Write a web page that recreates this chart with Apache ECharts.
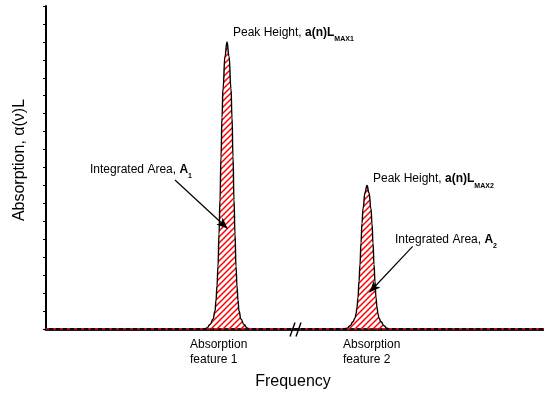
<!DOCTYPE html>
<html>
<head>
<meta charset="utf-8">
<script src="https://cdn.jsdelivr.net/npm/echarts@6/dist/echarts.min.js"></script>
<style>
  html, body { margin: 0; padding: 0; background: #fff; }
  #chart { width: 544px; height: 394px; }
</style>
</head>
<body>
<div id="chart"></div>
<script>
// Frequency axis range (arbitrary units) and absorption axis range
const freqRange = [0, 498];
const absRange = [0, 18];

// Absorption feature 1: (frequency, absorption) samples around its peak
const feature1 = [
  [158, 0], [161, 0.06], [164, 0.25], [167, 0.55], [169, 1.0],
  [170, 1.6], [171, 2.4], [172, 3.5], [173, 5.3], [174, 7.2], [175, 9.6],
  [176, 11.8], [177, 13.4], [179, 15.2], [181, 16], [183, 15.2], [185, 13.4],
  [186, 11.8], [187, 9.6], [188, 7.2], [189, 5.3], [190, 3.5], [191, 2.4],
  [192, 1.6], [193, 1.0], [195, 0.55], [198, 0.25], [201, 0.06], [204, 0]
];

// Absorption feature 2
const feature2 = [
  [298, 0], [301, 0.04], [304, 0.18], [307, 0.4], [309, 0.6],
  [310, 0.85], [311, 1.2], [312, 1.75], [313, 2.65], [314, 3.6], [315, 4.8],
  [316, 5.9], [317, 6.7], [319, 7.6], [321, 8], [323, 7.6], [325, 6.7],
  [326, 5.9], [327, 4.8], [328, 3.6], [329, 2.65], [330, 1.75], [331, 1.2],
  [332, 0.85], [333, 0.6], [335, 0.4], [338, 0.18], [341, 0.04], [344, 0]
];

const featureNames = ['Absorption\nfeature 1', 'Absorption\nfeature 2'];
const xTitle = 'Frequency';
const yTitle = 'Absorption, \u03b1(\u03bd)L';
const breakAt = 249.5;

const spectrum = [[freqRange[0], 0]].concat(feature1, feature2, [[freqRange[1], 0]]);

// red diagonal hatching used to fill the integrated areas
function hatchPattern() {
  const c = document.createElement('canvas');
  const s = 6;
  c.width = s; c.height = s;
  const g = c.getContext('2d');
  g.strokeStyle = '#ff0000';
  g.lineWidth = 1.5;
  g.beginPath();
  g.moveTo(-1, s + 1); g.lineTo(s + 1, -1);
  g.moveTo(-1, 1); g.lineTo(1, -1);
  g.moveTo(s - 1, s + 1); g.lineTo(s + 1, s - 1);
  g.stroke();
  return c;
}

const FONT = '"Liberation Sans", Arial, sans-serif';
const chart = echarts.init(document.getElementById('chart'), null, { renderer: 'canvas' });

chart.setOption({
  animation: false,
  backgroundColor: '#fff',
  grid: { left: 46, right: 0, top: 6, bottom: 65 },
  xAxis: {
    type: 'value',
    min: freqRange[0], max: freqRange[1],
    axisLine: { show: true, onZero: false, lineStyle: { color: '#1a1a1a', width: 3 } },
    axisTick: { show: false },
    axisLabel: { show: false },
    splitLine: { show: false }
  },
  yAxis: {
    type: 'value',
    min: absRange[0], max: absRange[1], interval: 1,
    axisLine: { show: true, lineStyle: { color: '#000', width: 2 } },
    axisTick: { show: true, inside: false, length: 3, lineStyle: { color: '#000', width: 1 } },
    axisLabel: { show: false },
    splitLine: { show: false }
  },
  series: [
    {
      type: 'line',
      data: spectrum,
      smooth: 0.5,
      smoothMonotone: 'x',
      showSymbol: false,
      lineStyle: { color: '#000', width: 1.4 },
      areaStyle: { color: { image: hatchPattern(), repeat: 'repeat' }, opacity: 1 },
      z: 3,
      markLine: {
        silent: true,
        animation: false,
        label: { show: false },
        lineStyle: { color: '#000', width: 1.2, type: 'solid' },
        data: [
          [
            { coord: [129, 8.3], symbol: 'none' },
            { coord: [181.5, 5.6], symbol: 'arrow', symbolSize: [7, 11] }
          ],
          [
            { coord: [366.7, 4.6], symbol: 'none' },
            { coord: [323.5, 2.05], symbol: 'arrow', symbolSize: [7, 11] }
          ]
        ]
      }
    },
    {
      // dashed red trace of the hatch along the baseline
      type: 'line',
      data: [[freqRange[0], 0], [freqRange[1], 0]],
      showSymbol: false,
      lineStyle: { color: '#ff1a1a', width: 1.3, type: [3, 4] },
      z: 5
    }
  ]
});

function px(x, y) { return chart.convertToPixel({ gridIndex: 0 }, [x, y]); }

const baseText = { fontFamily: FONT, fontSize: 12, fill: '#000' };
const rich = {
  n: { fontFamily: FONT, fontSize: 12, color: '#000' },
  b: { fontFamily: FONT, fontSize: 12, fontWeight: 'bold', color: '#000' },
  s: { fontFamily: FONT, fontSize: 7, fontWeight: 'bold', color: '#000', padding: [13, 0, 0, 0] }
};

function richLabel(x, y, text) {
  const p = px(x, y);
  return {
    type: 'text', x: p[0], y: p[1], z: 10,
    style: { text: text, rich: rich, verticalAlign: 'middle', align: 'left', fontFamily: FONT, fontSize: 12 }
  };
}

const graphics = [
  richLabel(187, 16.5, '{n|Peak Height, }{b|a(n)L}{s|MAX1}'),
  richLabel(327, 8.35, '{n|Peak Height, }{b|a(n)L}{s|MAX2}'),
  richLabel(44, 8.86, '{n|Integrated Area, }{b|A}{s|1}'),
  richLabel(349, 5.0, '{n|Integrated Area, }{b|A}{s|2}')
];

// feature captions under the axis
[[144, featureNames[0]], [297, featureNames[1]]].forEach(function (f) {
  const p = px(f[0], 0);
  graphics.push({
    type: 'text', x: p[0], y: p[1] + 8, z: 10,
    style: Object.assign({}, baseText, { text: f[1], lineHeight: 15, align: 'left', verticalAlign: 'top' })
  });
});

// axis break mark
(function () {
  const p = px(breakAt, 0);
  [-3, 3].forEach(function (dx) {
    graphics.push({
      type: 'line', z: 12,
      shape: { x1: p[0] + dx - 2.5, y1: p[1] + 7.5, x2: p[0] + dx + 2.5, y2: p[1] - 6.5 },
      style: { stroke: '#000', lineWidth: 1.4 }
    });
  });
})();

// axis titles
(function () {
  const pb = px((freqRange[0] + freqRange[1]) / 2, 0);
  graphics.push({
    type: 'text', x: pb[0] - 2, y: 382, z: 10,
    style: { text: xTitle, fontFamily: FONT, fontSize: 16, fill: '#000', align: 'center', verticalAlign: 'middle' }
  });
  graphics.push({
    type: 'text', x: 20, y: 160, rotation: Math.PI / 2, z: 10,
    style: { text: yTitle, fontFamily: FONT, fontSize: 16, fill: '#000', align: 'center', verticalAlign: 'middle' }
  });
})();

chart.setOption({ graphic: graphics });
</script>
</body>
</html>
